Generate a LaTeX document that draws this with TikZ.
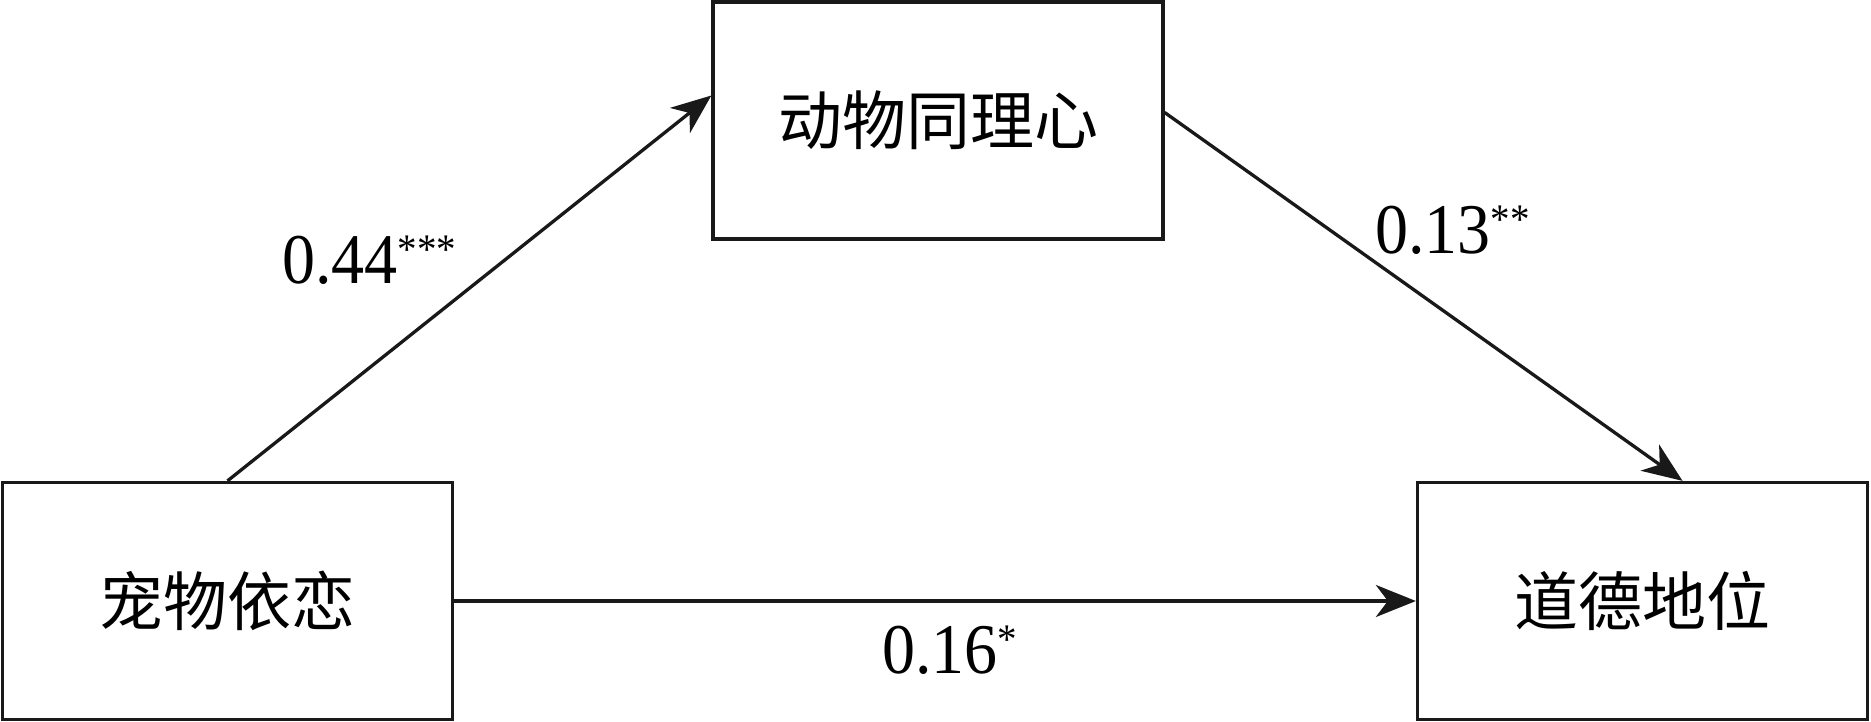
\documentclass[tikz,border=0pt]{standalone}
\usepackage{fontspec}
\setmainfont{Liberation Serif}
\newfontfamily\cjk{Noto Sans CJK SC}
\usetikzlibrary{arrows.meta,calc}
\tikzset{
  box/.style={draw=black!90, line width=3.3pt, minimum width=450pt, minimum height=237pt, inner sep=0pt,
    font=\cjk\fontsize{64}{64}\selectfont},
  conn/.style={draw=black!90, line width=3.3pt, -{Stealth[length=40pt,width=32pt,inset=12pt]}},
  coef/.style={anchor=base west, inner sep=0pt, font=\fontsize{66}{66}\selectfont}
}
\newcommand{\coefstar}[2]{\scalebox{1}[1.08]{#1\raisebox{18pt}{\fontsize{39}{39}\selectfont #2}}}
\begin{document}
\begin{tikzpicture}[x=1pt,y=-1pt]
\useasboundingbox (0,0) rectangle (1871,722);
\node[box] (emp) at (938,120.5) {动物同理心};
\node[box] (pet) at (227.5,601) {宠物依恋};
\node[box] (mor) at (1642.5,601) {道德地位};
\draw[conn] (pet.north) -- ($(emp.west)+(0,-25)$);
\draw[conn] ($(emp.east)+(0,-8)$) -- ($(mor.north)+(40,0)$);
\draw[conn] (pet.east) -- (mor.west);
\node[coef] (ca) at (282,283) {\coefstar{0.44}{***}};
\node[coef] (cb) at (1375,253) {\coefstar{0.13}{**}};
\node[coef] (cc) at (882,673) {\coefstar{0.16}{*}};
\end{tikzpicture}
\end{document}
